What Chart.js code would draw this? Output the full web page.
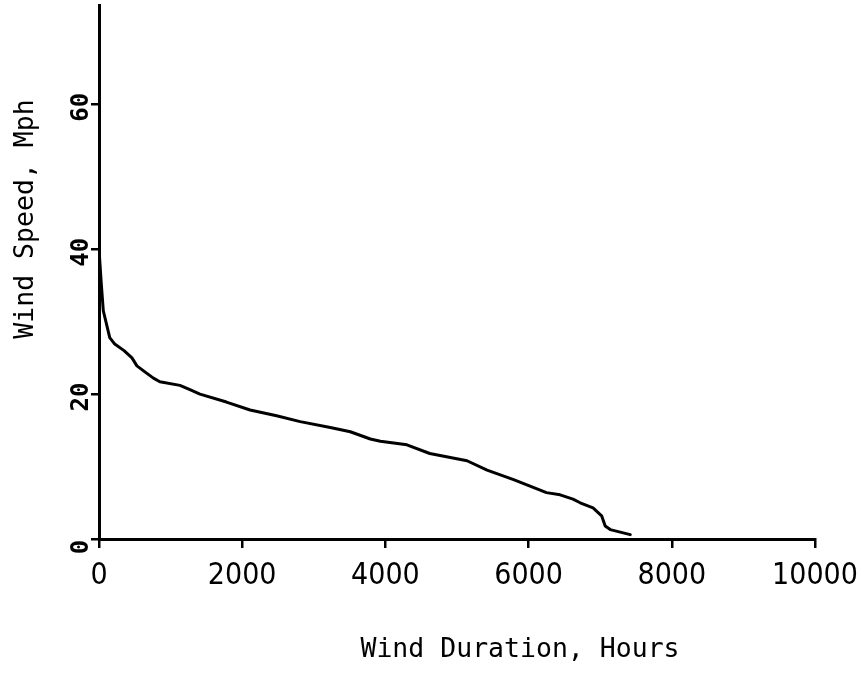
<!DOCTYPE html>
<html>
<head>
<meta charset="utf-8">
<script src="https://cdn.jsdelivr.net/npm/chart.js@4.4.1/dist/chart.umd.min.js"></script>
<style>
  html, body { margin: 0; padding: 0; background: #fff; }
  canvas { display: block; }
</style>
</head>
<body>
<canvas id="chart" width="867" height="680"></canvas>
<script>
// duration curve
var hours = [0, 30, 60, 150, 220, 350, 460, 530, 650, 760, 850, 1130, 1270, 1410,
             1780, 2110, 2480, 2810, 3230, 3510, 3790, 3930, 4300, 4620, 5140, 5420,
             5790, 6250, 6440, 6620, 6720, 6900, 7020, 7070, 7140, 7420];
var speed = [40, 35.5, 31.5, 27.8, 26.9, 26, 25, 23.9, 23, 22.2, 21.7, 21.2, 20.6, 20,
             18.9, 17.8, 17, 16.2, 15.4, 14.8, 13.8, 13.5, 13, 11.8, 10.8, 9.5,
             8.2, 6.4, 6.1, 5.5, 5.0, 4.3, 3.2, 1.8, 1.3, 0.6];

var x_ticks = [0, 2000, 4000, 6000, 8000, 10000];
var y_ticks = [0, 20, 40, 60];
var x_title = "Wind Duration, Hours";
var y_title = "Wind Speed, Mph";

var points = [];
for (let i = 0; i < hours.length; i++) {
    points.push({x: hours[i], y: speed[i]});
}

// y tick labels are turned on their side, and both titles sit off-centre
var typed_labels = {
    id: 'typed_labels',
    afterDraw(chart) {
        const ctx = chart.ctx;
        const area = chart.chartArea;
        const ys = chart.scales.y;
        ctx.save();
        ctx.fillStyle = '#000';
        ctx.textAlign = 'center';
        ctx.textBaseline = 'middle';
        ctx.font = 'bold 24px "DejaVu Sans Mono"';
        ys.ticks.forEach(t => {
            ctx.save();
            ctx.translate(area.left - 17, ys.getPixelForValue(t.value) + (t.value === 0 ? 8 : 3));
            ctx.rotate(-Math.PI / 2);
            ctx.fillText(String(t.value), 0, 0);
            ctx.restore();
        });

        ctx.font = '26.5px "DejaVu Sans Mono"';
        ctx.textBaseline = 'alphabetic';
        ctx.fillText(x_title, area.left + 421, 657);

        ctx.translate(33, 219);
        ctx.rotate(-Math.PI / 2);
        ctx.fillText(y_title, 0, 0);
        ctx.restore();
    }
};

var axis_grid = {
    display: true,
    drawOnChartArea: false,
    drawTicks: true,
    tickLength: 9,
    color: '#000',
    lineWidth: 2.5
};

new Chart(document.getElementById('chart').getContext('2d'), {
    type: 'line',
    data: {
        datasets: [{
            data: points,
            borderColor: '#000',
            borderWidth: 3,
            pointRadius: 0,
            tension: 0,
            fill: false,
            borderJoinStyle: 'round',
            borderCapStyle: 'round'
        }]
    },
    options: {
        responsive: false,
        animation: false,
        layout: { padding: { left: 0, right: 52, top: 5, bottom: 0 } },
        plugins: {
            legend: { display: false },
            tooltip: { enabled: false }
        },
        scales: {
            x: {
                type: 'linear',
                min: 0,
                max: 10000,
                afterBuildTicks: s => { s.ticks = x_ticks.map(v => ({value: v})); },
                afterFit: s => { s.height = 141; s.paddingRight = 0; s.paddingLeft = 0; },
                border: { display: true, color: '#000', width: 3 },
                grid: axis_grid,
                ticks: {
                    color: '#000',
                    padding: 10,
                    maxRotation: 0,
                    autoSkip: false,
                    callback: v => String(v),
                    font: { family: '"Liberation Sans Narrow", "DejaVu Sans Condensed", sans-serif', size: 30 }
                }
            },
            y: {
                type: 'linear',
                min: 0,
                max: 73.7,
                afterBuildTicks: s => { s.ticks = y_ticks.map(v => ({value: v})); },
                afterFit: s => { s.width = 99; },
                border: { display: true, color: '#000', width: 3 },
                grid: Object.assign({}, axis_grid, { tickLength: 8 }),
                ticks: { display: false }
            }
        }
    },
    plugins: [typed_labels]
});
</script>
</body>
</html>
